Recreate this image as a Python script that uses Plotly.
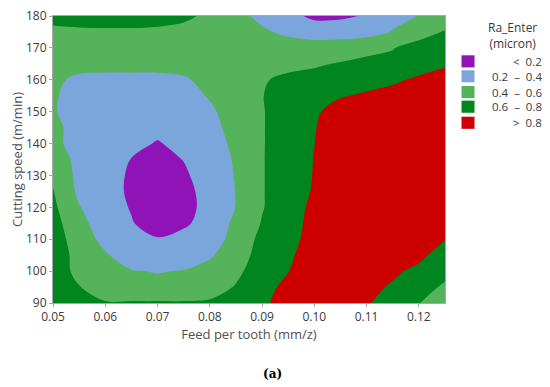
import plotly.graph_objects as go

# Grid of the surface (Feed per tooth x Cutting speed), values
feed = [0.05, 0.055, 0.06, 0.065, 0.07, 0.075, 0.08, 0.085, 0.09, 0.095,
        0.10, 0.105, 0.11, 0.115, 0.12, 0.125]
speed = [90, 95, 100, 105, 110, 115, 120, 125, 130, 135, 140, 145, 150,
         155, 160, 165, 170, 175, 180]

ra_090 = [.70, .64, .62, .62, .62, .62, .63, .68, .76, .89, .92, .88, .81, .75, .605, .50]
ra_095 = [.72, .61, .45, .45, .45, .46, .50, .615, .76, .83, .90, .89, .85, .78, .68, .57]
ra_100 = [.74, .53, .45, .41, .39, .41, .46, .55, .72, .795, .94, .93, .89, .83, .76, .66]
ra_105 = [.72, .53, .42, .30, .26, .28, .38, .50, .68, .77, .89, .93, .92, .89, .84, .72]
ra_110 = [.70, .50, .345, .26, .21, .24, .33, .45, .66, .74, .87, .94, .95, .93, .90, .805]
ra_115 = [.67, .47, .28, .21, .13, .18, .25, .45, .61, .72, .86, .94, .96, .96, .96, .95]
ra_120 = [.64, .41, .27, .19, .12, .16, .24, .405, .59, .70, .85, .94, .96, .97, .97, .97]
ra_125 = [.61, .36, .25, .18, .11, .16, .25, .405, .59, .69, .82, .93, .96, .97, .98, .98]
ra_130 = [.56, .35, .26, .18, .12, .17, .295, .41, .59, .69, .81, .92, .95, .97, .98, .98]
ra_135 = [.46, .37, .28, .197, .14, .205, .30, .42, .59, .69, .805, .91, .95, .97, .98, .98]
ra_140 = [.42, .37, .27, .22, .195, .22, .30, .45, .59, .68, .798, .90, .94, .96, .97, .98]
ra_145 = [.42, .37, .28, .24, .22, .23, .32, .49, .59, .68, .79, .90, .93, .95, .96, .97]
ra_150 = [.41, .35, .30, .27, .26, .27, .36, .51, .59, .68, .77, .88, .91, .93, .95, .96]
ra_155 = [.42, .33, .30, .29, .29, .31, .42, .52, .595, .67, .73, .785, .825, .86, .89, .91]
ra_160 = [.43, .37, .36, .36, .36, .38, .45, .52, .58, .647, .68, .70, .73, .77, .83, .86]
ra_165 = [.47, .45, .45, .45, .45, .46, .48, .50, .52, .54, .57, .618, .63, .66, .72, .78]
ra_170 = [.52, .51, .50, .50, .50, .50, .50, .50, .50, .49, .46, .47, .565, .59, .69, .72]
ra_175 = [.58, .58, .58, .58, .575, .54, .50, .47, .43, .36, .34, .34, .32, .41, .50, .61]
ra_180 = [.63, .65, .66, .66, .65, .64, .56, .46, .35, .27, .15, .16, .22, .34, .405, .52]

ra = [ra_090, ra_095, ra_100, ra_105, ra_110, ra_115, ra_120, ra_125, ra_130,
      ra_135, ra_140, ra_145, ra_150, ra_155, ra_160, ra_165, ra_170, ra_175, ra_180]

band_labels = ["<\u00a0\u00a00.2", "0.2\u00a0\u00a0\u2013\u00a0\u00a00.4",
               "0.4\u00a0\u00a0\u2013\u00a0\u00a00.6", "0.6\u00a0\u00a0\u2013\u00a0\u00a00.8",
               ">\u00a0\u00a00.8"]
band_colors = ["#9013B8", "#7BA6DB", "#55B35C", "#00851F", "#CC0000"]

x_ticks = [0.05, 0.06, 0.07, 0.08, 0.09, 0.10, 0.11, 0.12]
y_ticks = [90, 100, 110, 120, 130, 140, 150, 160, 170, 180]

c = band_colors
colorscale = [[0, c[0]], [0.125, c[0]], [0.125, c[1]], [0.375, c[1]],
              [0.375, c[2]], [0.625, c[2]], [0.625, c[3]], [0.875, c[3]],
              [0.875, c[4]], [1, c[4]]]

fig = go.Figure()
fig.add_trace(go.Contour(
    x=feed, y=speed, z=ra,
    colorscale=colorscale,
    contours=dict(start=0.2, end=0.8, size=0.2, coloring="fill"),
    line=dict(width=0, smoothing=1.0),
    showscale=False,
    hoverinfo="skip",
))

font_family = "Open Sans, Noto Sans, DejaVu Sans, sans-serif"
axis_common = dict(
    showline=True, linecolor="#a8a8a8", linewidth=1, mirror=True,
    ticks="outside", ticklen=3, tickcolor="#a8a8a8",
    showgrid=False, zeroline=False, automargin=False,
    ticklabeloverflow="allow",
    tickfont=dict(size=12, color="#3a3a3a", family=font_family),
)

fig.update_xaxes(range=[0.05, 0.125], tickvals=x_ticks,
                 ticktext=[f"{v:.2f}" for v in x_ticks],
                 title=dict(text="Feed per tooth (mm/z)", standoff=4,
                            font=dict(size=13, color="#505050", family=font_family)),
                 **axis_common)
fig.update_yaxes(range=[90, 180], tickvals=y_ticks,
                 title=dict(text="Cutting speed (m/min)", standoff=4,
                            font=dict(size=13, color="#505050", family=font_family)),
                 **axis_common)

# Legend drawn at the right of the plot (discrete bands of the contour)
annotations = [dict(text="Ra_Enter<br>(micron)", x=1.171, y=0.932, xref="paper", yref="paper",
                    showarrow=False, xanchor="center", yanchor="middle",
                    font=dict(size=12, color="#3a3a3a", family=font_family))]
shapes = []
row_y = [0.842, 0.790, 0.735, 0.684, 0.628]
sw_x, sw_hw, sw_hh = 1.0587, 0.0166, 0.0211
for lab, col, yy in zip(band_labels, band_colors, row_y):
    shapes.append(dict(type="rect", xref="paper", yref="paper",
                       x0=sw_x - sw_hw, x1=sw_x + sw_hw, y0=yy - sw_hh, y1=yy + sw_hh,
                       fillcolor=col, line=dict(width=0)))
    annotations.append(dict(text=lab, x=1.25, y=yy, xref="paper", yref="paper",
                            showarrow=False, xanchor="right", yanchor="middle",
                            borderpad=0,
                            font=dict(size=11.5, color="#3a3a3a", family=font_family)))
annotations.append(dict(text="<b>(a)</b>", x=0.561, y=-0.249, xref="paper", yref="paper",
                        showarrow=False, xanchor="center", yanchor="middle",
                        font=dict(size=12, color="#000000", family="DejaVu Serif")))

# The page adds an 8px body margin, so the figure is sized/margined to compensate.
fig.update_layout(
    width=542, height=379,
    margin=dict(l=45, r=105, t=8, b=84),
    paper_bgcolor="white", plot_bgcolor="white",
    annotations=annotations,
    shapes=shapes,
    showlegend=False,
)

fig.write_html("out.html")
